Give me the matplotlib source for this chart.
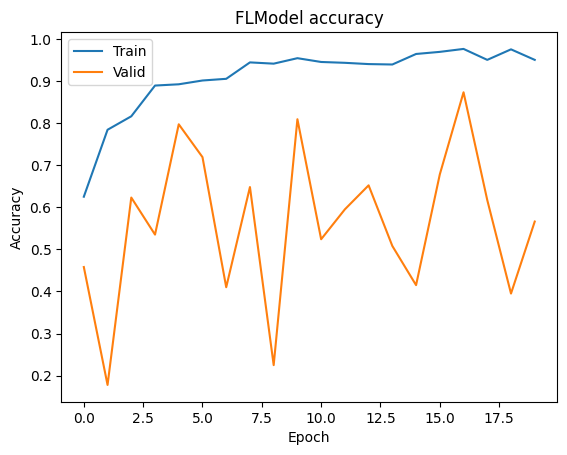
import matplotlib
matplotlib.use("Agg")
import matplotlib.pyplot as plt

epochs = list(range(20))
train_acc = [0.625, 0.784, 0.816, 0.889, 0.892, 0.901, 0.905, 0.944, 0.941, 0.954,
             0.945, 0.943, 0.940, 0.939, 0.964, 0.969, 0.976, 0.950, 0.975, 0.950]
valid_acc = [0.458, 0.178, 0.623, 0.535, 0.797, 0.719, 0.410, 0.648, 0.225, 0.809,
             0.524, 0.595, 0.652, 0.508, 0.415, 0.678, 0.873, 0.617, 0.395, 0.566]

fig, ax = plt.subplots()
ax.plot(epochs, train_acc, label="Train")
ax.plot(epochs, valid_acc, label="Valid")
ax.set_title("FLModel accuracy")
ax.set_xlabel("Epoch")
ax.set_ylabel("Accuracy")
ax.legend(loc="upper left")

plt.savefig("out.png", bbox_inches="tight")
plt.close()
